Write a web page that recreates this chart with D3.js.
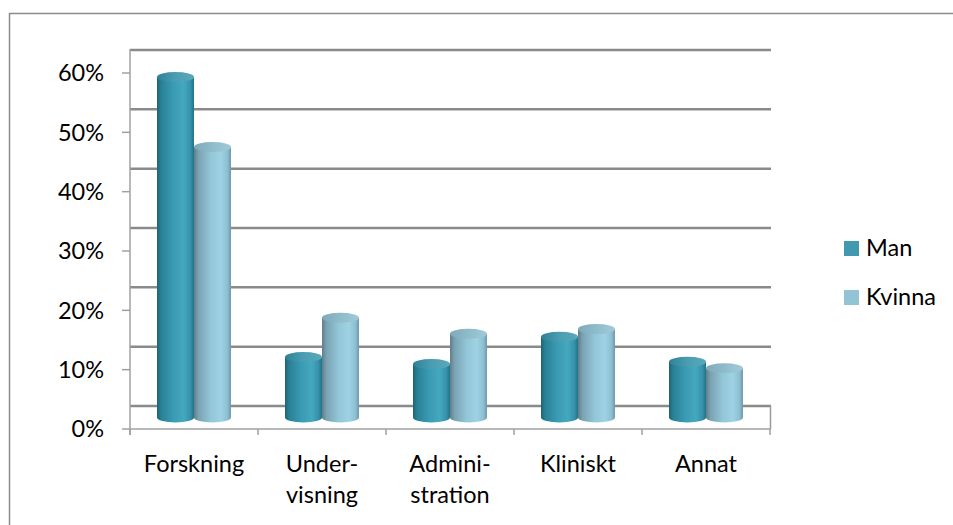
<!DOCTYPE html>
<html><head><meta charset="utf-8">
<script src="https://cdn.jsdelivr.net/npm/d3@7"></script>
<style>html,body{margin:0;padding:0;background:#fff;}svg{display:block;}text{font-family:Lato,"Open Sans",sans-serif;fill:#000;}</style>
</head><body><svg id="c" width="953" height="525"></svg>
<script>
const categories = ["Forskning", "Under-\nvisning", "Admini-\nstration", "Kliniskt", "Annat"];
const seriesNames = ["Man", "Kvinna"];
const manValues = [0.574, 0.102, 0.090, 0.136, 0.094];
const kvinnaValues = [0.456, 0.168, 0.141, 0.149, 0.083];
const yTicks = [0, 0.1, 0.2, 0.3, 0.4, 0.5, 0.6];
const tickLabels = ["0%", "10%", "20%", "30%", "40%", "50%", "60%"];

const svg = d3.select("#c");
const depth = 23;
const fs = 23.5;
const x = d3.scaleBand().domain(categories).range([130, 770]).padding(0);
const yFront = d3.scaleLinear().domain([0, 0.6]).range([429, 73]);
const yWall = v => yFront(v) - depth;
const yMid = v => yFront(v) - depth / 2;
const sub = d3.scaleBand().domain(seriesNames).range([-37, 37]).padding(0);

// outer border
svg.append("path").attr("d", "M9.5,530 L9.5,13.5 L960,13.5")
  .attr("fill", "none").attr("stroke", "#8c8c8c").attr("stroke-width", 1.5);

const defs = svg.append("defs");
function grad(id, stops) {
  const g = defs.append("linearGradient").attr("id", id).attr("x1", 0).attr("x2", 1).attr("y1", 0).attr("y2", 0);
  stops.forEach(s => g.append("stop").attr("offset", s[0]).attr("stop-color", s[1]));
}
grad("gMan", [[0, "#1d6577"], [0.12, "#2a8197"], [0.45, "#3a9cb3"], [0.72, "#45a8bf"], [0.9, "#3593aa"], [1, "#237287"]]);
grad("gManTop", [[0, "#2f8197"], [0.5, "#4a9db2"], [1, "#5aa9bc"]]);
grad("gKv", [[0, "#5f7e8a"], [0.12, "#7aa2b2"], [0.45, "#92c6d8"], [0.72, "#9fd2e3"], [0.9, "#8cc0d2"], [1, "#7099a8"]]);
grad("gKvTop", [[0, "#7ea9b8"], [0.5, "#8fbccb"], [1, "#a1cad8"]]);
const fills = {Man: ["url(#gMan)", "url(#gManTop)"], Kvinna: ["url(#gKv)", "url(#gKvTop)"]};

// back wall gridlines
const grid = svg.append("g");
grid.selectAll("line.g").data(yTicks).join("line")
  .attr("x1", 130).attr("x2", 771)
  .attr("y1", d => yWall(d)).attr("y2", d => yWall(d))
  .attr("stroke", "#8a8a8a").attr("stroke-width", 2.5);
// floor right edge
grid.append("line").attr("x1", 770.5).attr("x2", 770.5).attr("y1", yWall(0)).attr("y2", yFront(0))
  .attr("stroke", "#9a9a9a").attr("stroke-width", 1.5);
// left axis
grid.append("line").attr("x1", 130).attr("x2", 130).attr("y1", yWall(0.6) - 1).attr("y2", yFront(0) + 6)
  .attr("stroke", "#a0a0a0").attr("stroke-width", 1.5);
// y ticks on front
grid.selectAll("line.t").data(yTicks).join("line")
  .attr("x1", 122).attr("x2", 130)
  .attr("y1", d => yFront(d)).attr("y2", d => yFront(d))
  .attr("stroke", "#a0a0a0").attr("stroke-width", 1.5);
// front floor axis
grid.append("line").attr("x1", 130).attr("x2", 771).attr("y1", yFront(0)).attr("y2", yFront(0))
  .attr("stroke", "#a0a0a0").attr("stroke-width", 1.5);
const xTickPos = categories.map(c => x(c)).concat([x.range()[1]]);
grid.selectAll("line.xt").data(xTickPos).join("line")
  .attr("x1", d => d).attr("x2", d => d)
  .attr("y1", yFront(0)).attr("y2", yFront(0) + 6)
  .attr("stroke", "#a0a0a0").attr("stroke-width", 1.5);

// y labels
svg.append("g").selectAll("text").data(yTicks).join("text")
  .attr("x", 104).attr("y", d => yFront(d)).attr("dy", "0.36em")
  .attr("text-anchor", "end").attr("font-size", fs)
  .text((d, i) => tickLabels[i]);

// x labels
const xl = svg.append("g").selectAll("text").data(categories).join("text")
  .attr("x", d => x(d) + x.bandwidth() / 2).attr("y", 472)
  .attr("text-anchor", "middle").attr("font-size", fs);
xl.each(function(d) {
  const lines = d.split("\n");
  const t = d3.select(this);
  lines.forEach((l, i) => t.append("tspan").attr("x", x(d) + x.bandwidth() / 2).attr("dy", i ? 31 : 0).text(l));
});

// cylinders
const data = [];
categories.forEach((c, i) => {
  data.push({c, s: "Man", v: manValues[i]});
  data.push({c, s: "Kvinna", v: kvinnaValues[i]});
});
const ry = 5;
const bars = svg.append("g").selectAll("g").data(data).join("g");
bars.each(function(d) {
  const g = d3.select(this);
  const cx = x(d.c) + x.bandwidth() / 2;
  const l = cx + sub(d.s), r = l + sub.bandwidth();
  const rx = (r - l) / 2;
  const yb = yMid(0), yt = yMid(d.v);
  g.append("path")
    .attr("d", `M${l},${yt} L${l},${yb} A${rx},${ry} 0 0 0 ${r},${yb} L${r},${yt} Z`)
    .attr("fill", fills[d.s][0]);
  g.append("ellipse").attr("cx", l + rx).attr("cy", yt).attr("rx", rx).attr("ry", ry)
    .attr("fill", fills[d.s][1]);
});

// legend
const lg = svg.append("g").selectAll("g").data(seriesNames).join("g")
  .attr("transform", (d, i) => `translate(844,${241 + i * 49})`);
lg.append("rect").attr("width", 15).attr("height", 15)
  .attr("fill", d => d === "Man" ? "#4199b0" : "#93c4d5");
lg.append("text").attr("x", 22).attr("y", 14.5).attr("font-size", fs).text(d => d);
</script></body></html>
